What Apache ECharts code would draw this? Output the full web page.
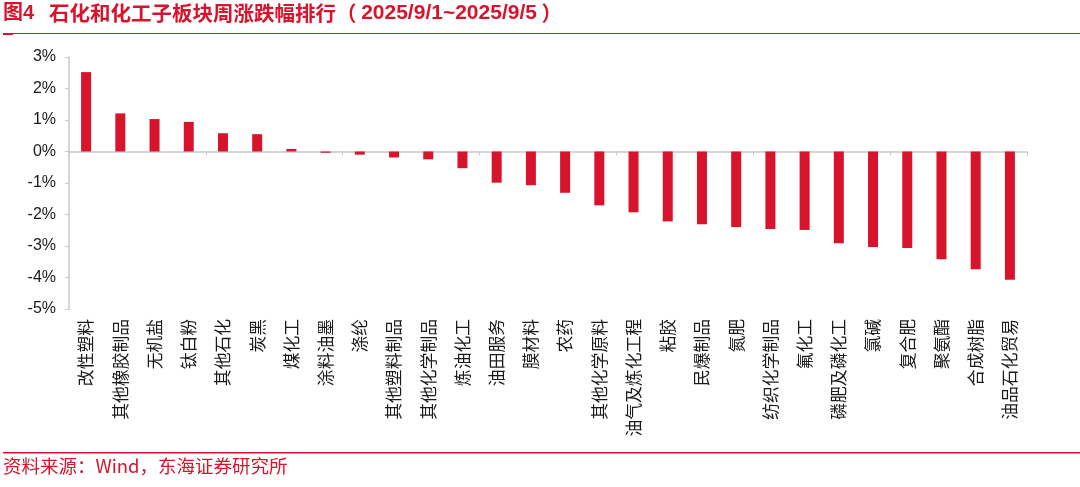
<!DOCTYPE html>
<html>
<head>
<meta charset="utf-8">
<script src="https://cdn.jsdelivr.net/npm/echarts@6/dist/echarts.min.js"></script>
<style>
html,body{margin:0;padding:0;background:#fff;}
#c{width:1080px;height:487px;}
</style>
</head>
<body>
<div id="c"></div>
<script>
var categories = ['改性塑料','其他橡胶制品','无机盐','钛白粉','其他石化','炭黑','煤化工','涂料油墨','涤纶','其他塑料制品','其他化学制品','炼油化工','油田服务','膜材料','农药','其他化学原料','油气及炼化工程','粘胶','民爆制品','氮肥','纺织化学制品','氟化工','磷肥及磷化工','氯碱','复合肥','聚氨酯','合成树脂','油品石化贸易'];
var changes = [2.52,1.21,1.03,0.94,0.58,0.55,0.08,-0.04,-0.10,-0.19,-0.25,-0.53,-0.99,-1.07,-1.31,-1.71,-1.93,-2.22,-2.31,-2.40,-2.46,-2.49,-2.91,-3.03,-3.06,-3.42,-3.74,-4.07];
var yTicks = [-5,-4,-3,-2,-1,0,1,2,3];
var titleNo = '图4';
var titleMain = '石化和化工子板块周涨跌幅排行';
var titleDate = '2025/9/1~2025/9/5';
var sourceText = '资料来源：Wind，东海证券研究所';

var RED = '#D7142B';
var CJK = '"Noto Sans CJK SC", sans-serif';
var LAT = '"Liberation Sans", "Noto Sans CJK SC", sans-serif';
var chart = echarts.init(document.getElementById('c'));
chart.setOption({
  animation: false,
  backgroundColor: '#fff',
  textStyle: {fontFamily: CJK},
  grid: {left: 69, right: 53, top: 57, bottom: 178, containLabel: false},
  xAxis: [{
    type: 'category', data: categories, position: 'bottom',
    axisLine: {onZero: true, lineStyle: {color: '#C8C8C8', width: 1.5}},
    axisTick: {show: true, alignWithLabel: false, length: 4, lineStyle: {color: '#C8C8C8', width: 1}},
    axisLabel: {show: false}
  }, {
    type: 'category', data: categories, position: 'bottom',
    axisLine: {show: false, onZero: false},
    axisTick: {show: false},
    axisLabel: {show: true, rotate: 90, interval: 0, margin: 10, color: '#1a1a1a', fontSize: 16.8, fontFamily: CJK}
  }],
  yAxis: {
    type: 'value', min: yTicks[0], max: yTicks[yTicks.length - 1], interval: 1,
    axisLine: {show: true, lineStyle: {color: '#C8C8C8', width: 1.5}},
    axisTick: {show: true, length: 4, lineStyle: {color: '#C8C8C8'}},
    splitLine: {show: false},
    axisLabel: {formatter: function (v) { return v + '%'; }, color: '#1a1a1a', fontSize: 16, margin: 13, fontFamily: '"Liberation Sans", Arial, sans-serif'}
  },
  series: [{
    type: 'bar', xAxisIndex: 0, data: changes, barWidth: 10,
    itemStyle: {color: RED}
  }],
  graphic: [
    {type: 'text', left: 3, top: 3, style: {
      text: '{n|' + titleNo + '}', fill: RED,
      rich: {n: {fontFamily: LAT, fontWeight: 'bold', fontSize: 20, fill: RED}}
    }},
    {type: 'text', left: 49, top: 3, style: {
      text: '{a|' + titleMain + '（ }{b|' + titleDate + '}{a| ）}', fill: RED,
      rich: {
        a: {fontFamily: CJK, fontWeight: 'bold', fontSize: 20.5, fill: RED},
        b: {fontFamily: LAT, fontWeight: 'bold', fontSize: 21, fill: RED}
      }
    }},
    {type: 'rect', shape: {x: 3, y: 33, width: 1077, height: 1}, style: {fill: RED}},
    {type: 'rect', shape: {x: 3, y: 33, width: 10, height: 2}, style: {fill: RED}},
    {type: 'rect', shape: {x: 3, y: 452, width: 1077, height: 1.5}, style: {fill: RED}},
    {type: 'text', left: 3, top: 457, style: {text: sourceText, fill: RED, font: '18.5px ' + CJK}}
  ]
});
</script>
</body>
</html>
